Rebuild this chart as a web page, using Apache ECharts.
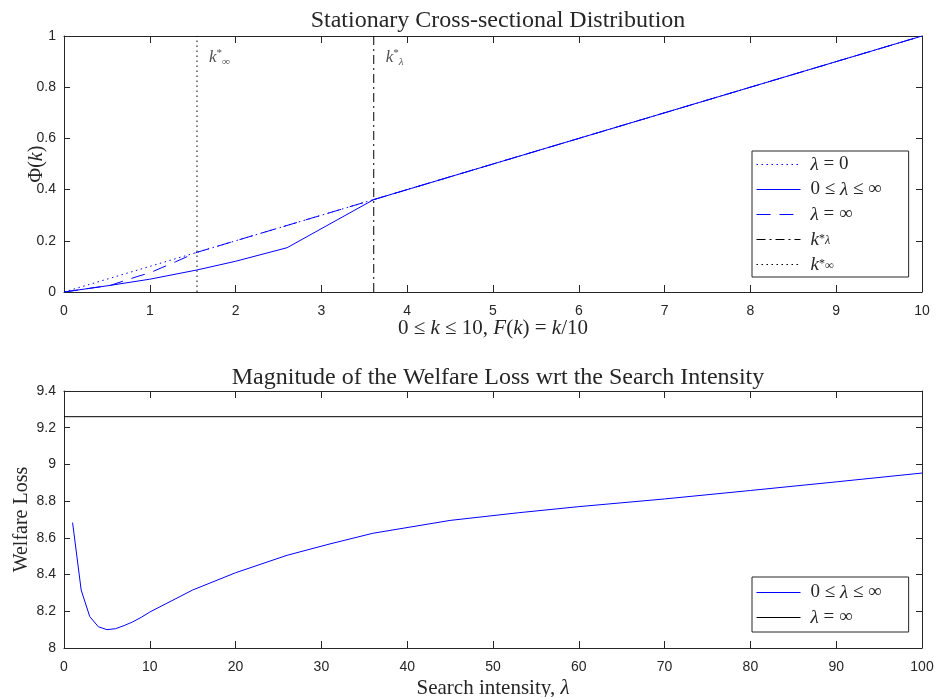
<!DOCTYPE html>
<html>
<head>
<meta charset="utf-8">
<script src="https://cdn.jsdelivr.net/npm/echarts@6/dist/echarts.min.js"></script>
<style>
  html, body { margin: 0; padding: 0; background: #fff; }
  #chart { width: 940px; height: 697px; }
</style>
</head>
<body>
<div id="chart"></div>
<script>
// ---- top panel: stationary distribution ----
const kLambda0 = [[0, 0], [10, 1]];                       // lambda = 0 (diagonal)
const kMid = [[0, 0], [0.54, 0.026], [1.0, 0.05], [1.55, 0.086], [2.0, 0.12],
              [2.6, 0.173], [3.61, 0.361], [10, 1]];      // 0 <= lambda <= inf
const kInf = [[0, 0], [0.54, 0.026], [0.85, 0.06], [1.0, 0.075], [1.3, 0.118],
              [1.55, 0.155], [3.61, 0.361], [10, 1]];     // lambda = inf
const kStarLambda = 3.61;
const kStarInf = 1.55;

// ---- bottom panel: welfare loss vs search intensity ----
const lambdas = [1, 2, 3, 4, 5, 6, 7, 8, 9, 10, 15, 20, 26, 31, 36, 45, 53, 60, 70, 80, 90, 100];
const welfare = [8.683, 8.316, 8.171, 8.116, 8.100, 8.105, 8.122, 8.142, 8.167, 8.196,
                 8.316, 8.410, 8.505, 8.567, 8.625, 8.695, 8.737, 8.770, 8.812, 8.858, 8.905, 8.953];
const welfareInf = 9.26;

const topXTicks = [0, 10, 1];
const botXTicks = [0, 100, 10];
const topYTicks = [0, 1, 0.2];
const botYTicks = [8, 9.4, 0.2];

const AX = '#262626';
const SERIF = '"Liberation Serif", "DejaVu Serif", serif';
const SANS = '"Liberation Sans", Arial, sans-serif';
const BLUE = '#0000ff';

function mathRich(size, lh, shift) {
  const small = Math.round(size * 0.65);
  const s = shift == null ? 9 : shift;
  return {
    i: { fontFamily: SERIF, fontStyle: 'italic', fontSize: size, color: AX, lineHeight: lh },
    sub: { fontFamily: SERIF, fontStyle: 'italic', fontSize: small, color: AX, verticalAlign: 'bottom', padding: [s, 0, 0, 0], lineHeight: lh },
    sup: { fontFamily: SERIF, fontSize: small, color: AX, verticalAlign: 'top', padding: [0, 0, s, 0], lineHeight: lh }
  };
}

function boxAxes(gridIndex, range, isX) {
  // main axis + mirrored one for the MATLAB style box
  const base = {
    gridIndex, type: 'value', min: range[0], max: range[1], interval: range[2],
    axisLine: { show: true, onZero: false, lineStyle: { color: AX, width: 1 } },
    axisTick: { show: true, inside: true, length: isX ? 7 : 6, lineStyle: { color: AX } },
    splitLine: { show: false }
  };
  return [
    Object.assign({}, base, {
      position: isX ? 'bottom' : 'left',
      axisLabel: {
        color: AX, fontFamily: SANS, fontSize: 14, margin: isX ? 12 : 8,
        formatter: v => String(+v.toFixed(2))
      }
    }),
    Object.assign({}, base, { position: isX ? 'top' : 'right', axisLabel: { show: false } })
  ];
}

const topX = boxAxes(0, topXTicks, true);
const botX = boxAxes(1, botXTicks, true);
const topY = boxAxes(0, topYTicks, false);
const botY = boxAxes(1, botYTicks, false);

function axisName(ax, text, gap, size) {
  ax.name = text;
  ax.nameLocation = 'middle';
  ax.nameGap = gap;
  ax.nameMoveOverlap = false;
  ax.nameTextStyle = { fontFamily: SERIF, fontSize: size, color: AX, rich: mathRich(size) };
}
axisName(topX[0], '0 ≤ {i|k} ≤ 10, {i|F}({i|k}) = {i|k}/10', 26, 21);
axisName(botX[0], 'Search intensity, {i|λ}', 30, 21);
axisName(topY[0], 'Φ({i|k})', 17, 20);
axisName(botY[0], 'Welfare Loss', 32, 20);

const legendNames = {
  l0: '{i|λ} = 0',
  mid: '0 ≤ {i|λ} ≤ ∞',
  inf: '{i|λ} = ∞',
  ksl: '{i|k}{sup|*}{sub|λ}',
  ksi: '{i|k}{sup|*}{sub|∞}'
};
legendNames.midB = legendNames.mid;
legendNames.infB = legendNames.inf;

function legendBox(data, left, top, pad) {
  return {
    data, left, top, orient: 'vertical',
    itemWidth: 44, itemHeight: 14, itemGap: 6,
    padding: pad,
    borderColor: AX, borderWidth: 1, borderRadius: 0, backgroundColor: '#fff',
    itemStyle: { opacity: 0 },
    lineStyle: { width: 1 },
    formatter: n => legendNames[n] || n,
    textStyle: { fontFamily: SERIF, fontSize: 19, color: AX, lineHeight: 14,
                 padding: [0, 0, 0, 5], rich: mathRich(19, 14, 0) }
  };
}

const chart = echarts.init(document.getElementById('chart'), null, { renderer: 'canvas' });

const kLabelStyle = {
  show: true, position: [12, 12], color: AX, fontFamily: SERIF, fontSize: 17,
  rich: mathRich(17)
};

chart.setOption({
  animation: false,
  title: [
    { text: 'Stationary Cross-sectional Distribution', left: 493, textAlign: 'center', top: 4,
      textStyle: { fontFamily: SERIF, fontSize: 24, fontWeight: 'normal', color: AX } },
    { text: 'Magnitude of the Welfare Loss wrt the Search Intensity', left: 493, textAlign: 'center', top: 361,
      textStyle: { fontFamily: SERIF, fontSize: 24, fontWeight: 'normal', color: AX } }
  ],
  grid: [
    { left: 64, right: 18, top: 36, height: 256, outerBoundsMode: 'none', containLabel: false },
    { left: 64, right: 18, top: 391, height: 257, outerBoundsMode: 'none', containLabel: false }
  ],
  xAxis: [...topX, ...botX],
  yAxis: [...topY, ...botY],
  legend: [
    legendBox(['l0', 'mid', 'inf', 'ksl', 'ksi'], 752, 151, [4, 27, 3, 4]),
    legendBox(['midB', 'infB'], 752, 577, [6, 27, 5, 4])
  ],
  series: [
    { name: 'l0', type: 'line', xAxisIndex: 0, yAxisIndex: 0, data: kLambda0, symbol: 'none',
      lineStyle: { color: BLUE, width: 1, type: [1.5, 3.5] }, itemStyle: { color: BLUE } },
    { name: 'mid', type: 'line', xAxisIndex: 0, yAxisIndex: 0, data: kMid, symbol: 'none',
      lineStyle: { color: BLUE, width: 1 }, itemStyle: { color: BLUE } },
    { name: 'inf', type: 'line', xAxisIndex: 0, yAxisIndex: 0, data: kInf, symbol: 'none',
      lineStyle: { color: BLUE, width: 1, type: [14, 9] }, itemStyle: { color: BLUE } },
    { name: 'ksl', type: 'line', xAxisIndex: 0, yAxisIndex: 0, symbol: 'none',
      data: [[kStarLambda, 0], [kStarLambda, 1]],
      lineStyle: { color: '#000', width: 1, type: [9, 4, 2, 4] }, itemStyle: { color: '#000' } },
    { name: 'ksi', type: 'line', xAxisIndex: 0, yAxisIndex: 0, symbol: 'none',
      data: [[kStarInf, 0], [kStarInf, 1]],
      lineStyle: { color: '#000', width: 1, type: [1.5, 3.5] }, itemStyle: { color: '#000' } },
    { name: 'kLabels', type: 'scatter', xAxisIndex: 0, yAxisIndex: 0, symbolSize: 0, silent: true,
      data: [
        { value: [kStarInf, 1], label: Object.assign({}, kLabelStyle, { formatter: legendNames.ksi }) },
        { value: [kStarLambda, 1], label: Object.assign({}, kLabelStyle, { formatter: legendNames.ksl }) }
      ] },
    { name: 'midB', type: 'line', xAxisIndex: 2, yAxisIndex: 2,
      data: lambdas.map((l, i) => [l, welfare[i]]), symbol: 'none',
      lineStyle: { color: BLUE, width: 1 }, itemStyle: { color: BLUE } },
    { name: 'infB', type: 'line', xAxisIndex: 2, yAxisIndex: 2,
      data: [[0, welfareInf], [100, welfareInf]], symbol: 'none',
      lineStyle: { color: '#000', width: 1 }, itemStyle: { color: '#000' } }
  ]
});
</script>
</body>
</html>
